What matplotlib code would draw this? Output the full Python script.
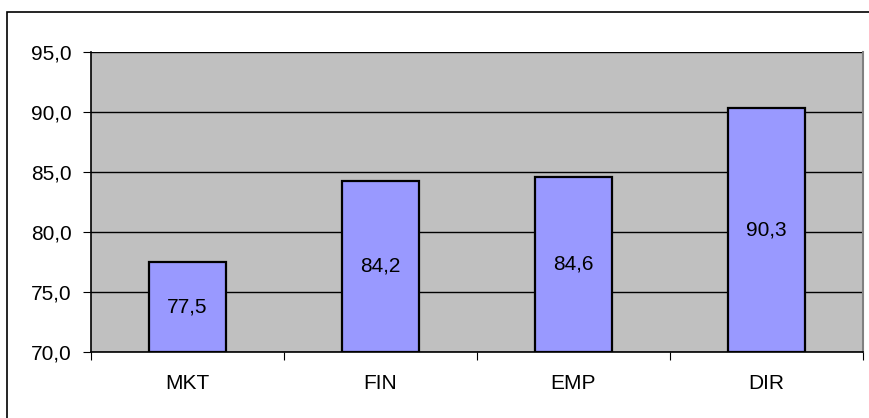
import matplotlib.pyplot as plt
from matplotlib.patches import Rectangle

# chart data
categories = ["MKT", "FIN", "EMP", "DIR"]
values = [77.5, 84.2, 84.6, 90.3]
y_ticks = [70, 75, 80, 85, 90, 95]

W, H = 869, 418
plt.rcParams['font.family'] = ['Liberation Sans', 'DejaVu Sans']
FS = 15

fig = plt.figure(figsize=(W / 100, H / 100), dpi=100)

# outer chart border (runs off the right/bottom edge)
fig.patches.append(Rectangle((7.5 / W, -0.05), 1.1, 1 - 12.5 / H + 0.05,
                             transform=fig.transFigure, fill=False,
                             edgecolor='black', linewidth=1.2))

left, right, top, bottom = 91, 863, 52, 351.5
ax = fig.add_axes([left / W, (H - bottom) / H, (right - left) / W, (bottom - top) / H])
ax.set_facecolor('#C0C0C0')

x = range(len(categories))
bars = ax.bar(x, [v - 70 for v in values], bottom=70, width=0.4,
              color='#9999FF', edgecolor='black', linewidth=1.6, zorder=3)

for xi, v in zip(x, values):
    ax.text(xi, (70 + v) / 2, f"{v:.1f}".replace('.', ','), ha='center',
            va='center', fontsize=FS, zorder=4)

ax.set_xlim(-0.5, len(categories) - 0.5)
ax.set_ylim(70, 95)
ax.set_yticks(y_ticks)
ax.set_yticklabels([f"{t:.1f}".replace('.', ',') for t in y_ticks], fontsize=FS)
ax.yaxis.grid(True, color='black', linewidth=1)
ax.set_axisbelow(True)

ax.set_xticks([i - 0.5 for i in range(len(categories) + 1)])
ax.set_xticklabels([])
ax.set_xticks(list(x), minor=True)
ax.set_xticklabels(categories, minor=True, fontsize=FS)
ax.tick_params(axis='x', which='minor', length=0, pad=16)
ax.tick_params(axis='x', which='major', length=6, color='black', direction='out')
ax.tick_params(axis='y', length=6, direction='out', pad=8)

for s in ['left', 'bottom']:
    ax.spines[s].set_color('black')
    ax.spines[s].set_linewidth(1.2)
ax.spines['top'].set_visible(False)
ax.spines['right'].set_color('#808080')
ax.spines['right'].set_linewidth(1.5)

fig.savefig('out.png', dpi=100)
